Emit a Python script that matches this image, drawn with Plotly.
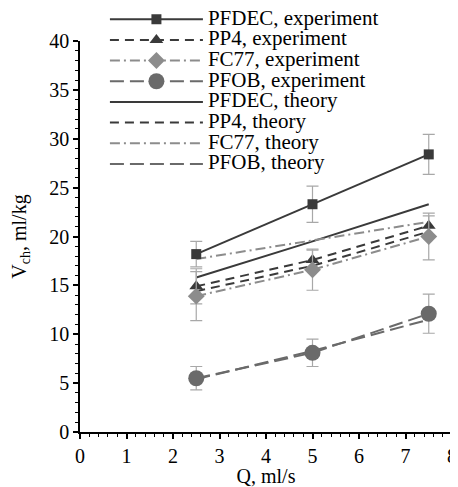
import plotly.graph_objects as go

# ---- data ----
Q = [2.5, 5.0, 7.5]

pfdec_exp = [18.2, 23.3, 28.4]
pfdec_err = [1.3, 1.85, 2.05]
pp4_exp = [14.9, 17.6, 21.1]
pp4_err = [1.8, 1.0, 1.0]
fc77_exp = [13.9, 16.6, 20.0]
fc77_err = [2.5, 2.1, 2.4]
pfob_exp = [5.5, 8.1, 12.1]
pfob_err = [1.2, 1.4, 2.0]

pfdec_th = [15.8, 19.5, 23.3]
pp4_th = [14.4, 17.0, 20.5]
fc77_th = [17.7, 19.6, 21.5]
pfob_th = [5.4, 8.3, 11.5]

x_ticks = [0, 1, 2, 3, 4, 5, 6, 7, 8]
y_ticks = [0, 5, 10, 15, 20, 25, 30, 35, 40]

# ---- styles ----
DARK = "#3a3a3a"
GRAY = "#8c8c8c"
MID = "#6a6a6a"
ERR = "#a8a8a8"
FONT = "Liberation Serif, Times New Roman, serif"

def lbl(s):
    return '<span style="font-size:21px">' + s + '</span>'

fig = go.Figure()

# theory lines (drawn first, below the experiments)
theory = [
    ("PFDEC, theory", pfdec_th, DARK, "solid", 5),
    ("PP4, theory", pp4_th, DARK, "9px,6px", 6),
    ("FC77, theory", fc77_th, GRAY, "10px,4px,2px,4px", 7),
    ("PFOB, theory", pfob_th, MID, "14px,6px", 8),
]
for name, y, c, d, rank in theory:
    fig.add_trace(go.Scatter(
        x=Q, y=y, mode="lines", name=lbl(name), legendrank=rank,
        line=dict(color=c, width=2, dash=d),
    ))

exps = [
    ("PFDEC, experiment", pfdec_exp, pfdec_err, DARK, "solid", "square", 10, 1),
    ("PP4, experiment", pp4_exp, pp4_err, DARK, "9px,6px", "triangle-up", 12, 2),
    ("FC77, experiment", fc77_exp, fc77_err, GRAY, "10px,4px,2px,4px", "diamond", 13, 3),
    ("PFOB, experiment", pfob_exp, pfob_err, MID, "14px,6px", "circle", 16, 4),
]
for name, y, e, c, d, sym, sz, rank in exps:
    fig.add_trace(go.Scatter(
        x=Q, y=y, mode="lines+markers", name=lbl(name), legendrank=rank,
        line=dict(color=c, width=2, dash=d),
        marker=dict(symbol=sym, size=sz, color=c),
        error_y=dict(type="data", array=e, visible=True, color=ERR,
                     thickness=1.2, width=6),
    ))

axis_common = dict(
    showline=True, linecolor="black", linewidth=1.5,
    ticks="outside", ticklen=5, tickwidth=1.5, tickcolor="black",
    showgrid=False, zeroline=False, automargin=False,
    tickfont=dict(family=FONT, size=20, color="black"),
)

# page body has an 8px default margin, so the figure is 8px smaller each way
fig.update_layout(
    width=450, height=479,
    margin=dict(l=72, r=6, t=33, b=55, autoexpand=False),
    paper_bgcolor="white", plot_bgcolor="white",
    font=dict(family=FONT, color="black"),
    xaxis=dict(range=[0, 8], tickvals=x_ticks,
               minor=dict(dtick=0.2, ticks="outside", ticklen=3, tickwidth=1, tickcolor="black"),
               title=dict(text="Q, ml/s", font=dict(family=FONT, size=20), standoff=4),
               **axis_common),
    yaxis=dict(range=[0, 40], tickvals=y_ticks,
               minor=dict(dtick=1, ticks="outside", ticklen=3, tickwidth=1, tickcolor="black"),
               title=dict(text="V<sub>ch</sub>, ml/kg", font=dict(family=FONT, size=20), standoff=18),
               **axis_common),
    legend=dict(x=0.067, xanchor="left", y=1.095, yanchor="top",
                bgcolor="rgba(0,0,0,0)", font=dict(family=FONT, size=13.6, color="black"),
                tracegroupgap=0, itemwidth=93),
    showlegend=True,
)

fig.write_html("out.html")
